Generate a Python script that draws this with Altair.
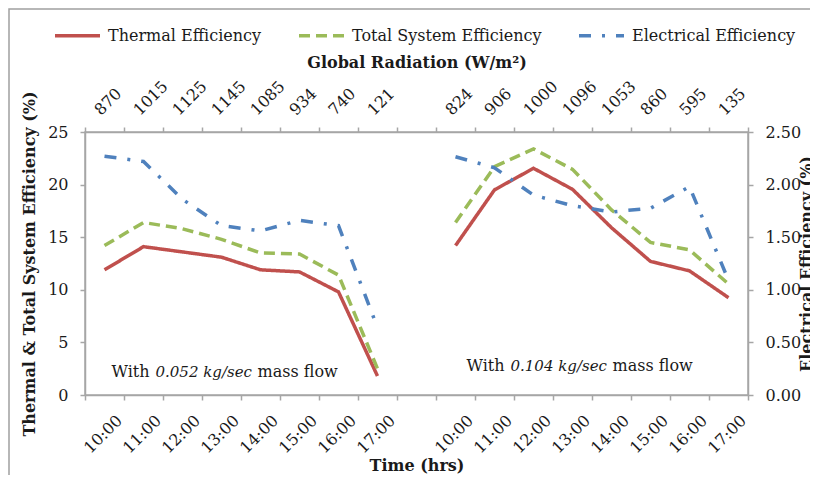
import altair as alt
import pandas as pd

# ---------------- data ----------------
times = ["10:00", "11:00", "12:00", "13:00", "14:00", "15:00", "16:00", "17:00"]
radiation_052 = [870, 1015, 1125, 1145, 1085, 934, 740, 121]
radiation_104 = [824, 906, 1000, 1096, 1053, 860, 595, 135]

thermal_052 = [11.9, 14.1, 13.6, 13.1, 11.9, 11.7, 9.8, 1.8]
total_052 = [14.2, 16.4, 15.8, 14.8, 13.5, 13.4, 11.4, 2.5]
electrical_052 = [2.27, 2.22, 1.86, 1.61, 1.56, 1.66, 1.61, 0.64]

thermal_104 = [14.2, 19.5, 21.55, 19.55, 15.9, 12.7, 11.8, 9.25]
total_104 = [16.4, 21.7, 23.4, 21.45, 17.6, 14.5, 13.8, 10.55]
electrical_104 = [2.265, 2.16, 1.90, 1.80, 1.74, 1.775, 1.98, 1.09]

series_names = ["Thermal Efficiency", "Total System Efficiency", "Electrical Efficiency"]
series_colors = ["#C0504D", "#9BBB59", "#4F81BD"]
series_dashes = [[1, 0], [11, 6], [12, 11, 3, 11]]

left_note = ["With ", "0.052 kg/sec", "mass flow"]
right_note = ["With ", "0.104 kg/sec", "mass flow"]
left_note_value = 1.7
right_note_value = 2.28

# ---------------- table ----------------
left_keys = [f"L|{t}|{r}" for t, r in zip(times, radiation_052)]
right_keys = [f"R|{t}|{r}" for t, r in zip(times, radiation_104)]
gap_key = "G||"
domain = left_keys + [gap_key] + right_keys

rows = []
for keys, grp, th, to, el in [
    (left_keys, "L", thermal_052, total_052, electrical_052),
    (right_keys, "R", thermal_104, total_104, electrical_104),
]:
    for k, a, b, c in zip(keys, th, to, el):
        rows.append(dict(slot=k, group=grp, series=series_names[0], value=a))
        rows.append(dict(slot=k, group=grp, series=series_names[1], value=b))
        rows.append(dict(slot=k, group=grp, series=series_names[2], value=c))
df = pd.DataFrame(rows)
df_main = df[df.series != series_names[2]]
df_elec = df[df.series == series_names[2]]
df_rad = pd.DataFrame({"slot": left_keys + right_keys,
                       "label": [str(r) for r in radiation_052 + radiation_104]})

FONT = "DejaVu Serif"
AX = "#a6a6a6"
TXT = "#1a1a1a"

xscale = alt.Scale(type="band", domain=domain, paddingInner=0, paddingOuter=0)
yscale_left = alt.Scale(domain=[0, 25], nice=False, zero=True)


def legend():
    return alt.Legend(title=None, orient="none", legendX=-32, legendY=-121,
                      direction="horizontal", columns=3, columnPadding=30,
                      symbolType="stroke", symbolSize=2025, symbolStrokeWidth=3.5,
                      labelFont=FONT, labelFontSize=16, labelColor=TXT,
                      labelOffset=6, labelLimit=400)


color = alt.Color("series:N", scale=alt.Scale(domain=series_names, range=series_colors), legend=legend())
dash = alt.StrokeDash("series:N", scale=alt.Scale(domain=series_names, range=series_dashes), legend=legend())

bottom_axis = alt.Axis(orient="bottom", labelExpr="split(datum.value,'|')[1]", labelAngle=315,
                       labelAlign="right", labelBaseline="top", labelOffset=9,
                       tickBand="extent", tickSize=5, labelPadding=12,
                       title="Time (hrs)", titleY=75, titleBaseline="alphabetic")
top_axis = alt.Axis(orient="top", labels=False,
                    tickBand="extent", tickSize=5,
                    title="Global Radiation (W/m²)", titleY=-65, titleBaseline="alphabetic")
left_axis = alt.Axis(orient="left", values=[0, 5, 10, 15, 20, 25], tickSize=5, labelPadding=12,
                     title="Thermal & Total System Efficiency (%)", titlePadding=10)

lines_main = alt.Chart(df_main).mark_line(strokeWidth=3.5).encode(
    x=alt.X("slot:N", scale=xscale, bandPosition=0.5, axis=bottom_axis, sort=domain),
    y=alt.Y("value:Q", scale=yscale_left, axis=left_axis),
    color=color,
    strokeDash=dash,
    detail="group:N",
)


def note(parts, slot, yval, dxs, sizes):
    note_df = pd.DataFrame({"slot": [slot], "value": [yval]})
    base = alt.Chart(note_df)
    marks = []
    for text, dx, size, style in zip(parts, dxs, sizes, ["normal", "italic", "normal"]):
        marks.append(base.mark_text(text=text, align="left", baseline="alphabetic", dx=dx,
                                    font=FONT, fontSize=size, fontStyle=style, color=TXT).encode(
            x=alt.X("slot:N", scale=xscale, bandPosition=0.5, axis=bottom_axis, sort=domain),
            y=alt.Y("value:Q", scale=yscale_left, axis=left_axis)))
    return marks


notes = note(left_note, left_keys[0], left_note_value, [7, 51, 153], [16, 15, 16]) + \
        note(right_note, right_keys[0], right_note_value, [11, 55, 157], [16, 15, 16])

frame = alt.Chart(pd.DataFrame({"a": [0]})).mark_rect(fill=None, stroke="#a0a0a0", strokeWidth=1.5).encode(
    x=alt.value(-76), x2=alt.value(760), y=alt.value(-123), y2=alt.value(400))

layer_a = alt.layer(frame, lines_main, *notes)

lines_elec = alt.Chart(df_elec).mark_line(strokeWidth=3.5).encode(
    x=alt.X("slot:N", scale=xscale, bandPosition=0.5, axis=top_axis, sort=domain),
    y=alt.Y("value:Q", scale=alt.Scale(domain=[0, 2.5], nice=False, zero=True),
            axis=alt.Axis(orient="right", values=[0, 0.5, 1, 1.5, 2, 2.5], format=".2f",
                          tickSize=5, labelPadding=12, title="Electrical Efficiency (%)",
                          titleAngle=270, titlePadding=14)),
    color=color,
    strokeDash=dash,
    detail="group:N",
)

rad_labels = alt.Chart(df_rad).mark_text(angle=315, align="left", baseline="bottom", dx=-2,
                                         font=FONT, fontSize=16, color=TXT).encode(
    x=alt.X("slot:N", scale=xscale, bandPosition=0.5, axis=top_axis, sort=domain),
    y=alt.value(-15),
    text="label:N",
)

layer_b = alt.layer(lines_elec, rad_labels)

chart = alt.layer(layer_a, layer_b).resolve_scale(y="independent").resolve_axis(
    x="independent").properties(
    width=663, height=263,
    autosize=alt.AutoSizeParams(type="none"),
    padding={"left": 77, "top": 124, "right": 62, "bottom": 80},
).configure_view(stroke=AX, strokeWidth=1.5).configure_axis(
    domainColor=AX, tickColor=AX, domainWidth=1.5, tickWidth=1.5, grid=False,
    labelFont=FONT, labelFontSize=16, labelColor=TXT,
    titleFont=FONT, titleFontSize=16, titleFontWeight="bold", titleColor=TXT,
)

chart.save("out.html", embed_options={"renderer": "svg", "actions": False})
